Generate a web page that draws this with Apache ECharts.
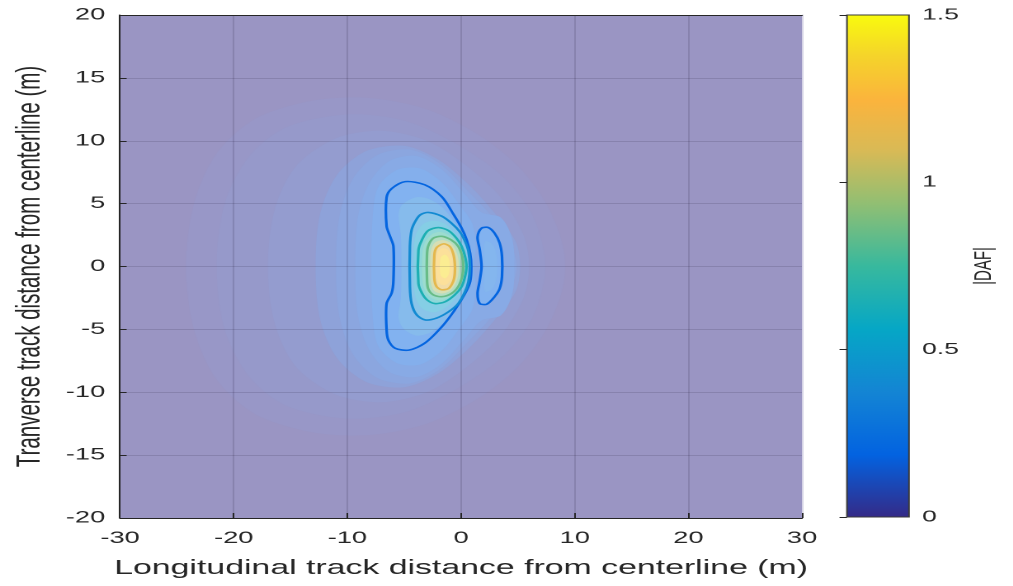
<!DOCTYPE html>
<html>
<head>
<meta charset="utf-8">
<script src="https://cdn.jsdelivr.net/npm/echarts@6/dist/echarts.min.js"></script>
<style>
  html, body { margin: 0; padding: 0; background: #fff; overflow: hidden; }
  #wrap { width: 1013px; height: 586px; overflow: hidden; }
  /* the figure is laid out narrow and stretched horizontally */
  #chart { width: 614px; height: 586px; transform: scaleX(1.65); transform-origin: 0 0; }
</style>
</head>
<body>
<div id="wrap"><div id="chart"></div></div>
<script>
// ---- axes ----
const xTicks = [-30, -20, -10, 0, 10, 20, 30];
const yTicks = [-20, -15, -10, -5, 0, 5, 10, 15, 20];
const cbTicks = [0, 0.5, 1, 1.5];
const cbMax = 1.5;

// ---- |DAF| field, outlined as nested level regions (x, y in metres) ----
const halo015 = [[-24.2,0],[-23.5,5],[-21.5,9],[-18,11.8],[-13,13.2],[-8,13.4],[-3,12.5],[1.5,10.5],[5,8],[7.5,5],[9,1.5],[9,-1.5],[7.5,-5],[5,-8],[1.5,-10.5],[-3,-12.5],[-8,-13.4],[-13,-13.2],[-18,-11.8],[-21.5,-9],[-23.5,-5]];
const halo030 = [[-21.5,0],[-20.8,5],[-18.6,8.8],[-15.3,11.1],[-10,12.1],[-5,11.6],[-0.5,9.8],[3.5,7.3],[6.1,4.4],[7.3,1.2],[7.3,-1.2],[6.1,-4.4],[3.5,-7.3],[-0.5,-9.8],[-5,-11.6],[-10,-12.1],[-15.3,-11.1],[-18.6,-8.8],[-20.8,-5]];
const halo050 = [[-17,0],[-16.4,4.5],[-14.5,8],[-11,10.2],[-7,10.8],[-3,10],[0.5,8],[3.5,5.5],[5.5,2.5],[6,0],[5.5,-2.5],[3.5,-5.5],[0.5,-8],[-3,-10],[-7,-10.8],[-11,-10.2],[-14.5,-8],[-16.4,-4.5]];
const halo090 = [[-12.8,0],[-12.4,4.2],[-10.9,7.3],[-8.3,9.2],[-5,9.6],[-2,8.5],[0.8,6.4],[3,4.2],[4.8,2],[5.2,0],[4.8,-2],[3,-4.2],[0.8,-6.4],[-2,-8.5],[-5,-9.6],[-8.3,-9.2],[-10.9,-7.3],[-12.4,-4.2]];
const halo115 = [[-11,0],[-10.7,4],[-9.5,7],[-7.3,8.9],[-4.5,9.3],[-1.9,8.2],[0.5,6.1],[2.4,4.3],[4.2,2.1],[4.9,0],[4.2,-2.1],[2.4,-4.3],[0.5,-6.1],[-1.9,-8.2],[-4.5,-9.3],[-7.3,-8.9],[-9.5,-7],[-10.7,-4]];
const halo140 = [[-9.3,0],[-9.1,3.8],[-8.1,6.6],[-6.3,8.4],[-4,8.8],[-1.8,7.8],[0.3,5.8],[1.8,4.3],[3.5,3.9],[4.5,2.2],[4.7,0],[4.5,-2.2],[3.5,-3.9],[1.8,-4.3],[0.3,-5.8],[-1.8,-7.8],[-4,-8.8],[-6.3,-8.4],[-8.1,-6.6],[-9.1,-3.8]];
const halo170 = [[-7.9,0],[-7.8,3.6],[-7.3,6.3],[-5.6,7.7],[-3.6,7.8],[-1.7,6.7],[-0.2,5.0],[1.0,3.4],[1.3,1.5],[1.1,0],[1.3,-1.5],[1.0,-3.4],[-0.2,-5.0],[-1.7,-6.7],[-3.6,-7.8],[-5.6,-7.7],[-7.3,-6.3],[-7.8,-3.6]];
const contour020 = [[-6.1,6.2],[-4.9,6.75],[-3.2,6.5],[-1.7,5.55],[-0.7,4.2],[0.05,3.05],[0.5,2.1],[0.8,1.05],[0.9,0],[0.8,-1.2],[0.35,-2.15],[-0.55,-3.45],[-1.7,-4.8],[-3.2,-6.1],[-4.6,-6.65],[-5.8,-6.5],[-6.4,-5.85],[-6.55,-5.05],[-6.55,-2.95],[-6.1,-2.1],[-5.95,-1.1],[-5.95,1.6],[-6.25,2.4],[-6.55,3.2],[-6.55,5.5]];
const island020 = [[1.8,3.05],[2.4,3.1],[2.95,2.65],[3.4,1.85],[3.6,0.8],[3.6,-0.8],[3.4,-1.75],[2.95,-2.4],[2.25,-3.0],[1.65,-2.95],[1.45,-2.15],[1.65,-1.1],[1.8,0],[1.65,1.3],[1.45,2.35]];
const island024 = [[2.1,2.0],[2.75,1.8],[3.15,0.8],[3.15,-0.8],[2.75,-1.8],[2.1,-2.0],[2.0,0]];
const fill030 = [[-5.2,4.9],[-4.0,5.5],[-2.9,5.4],[-1.7,4.75],[-0.8,3.8],[-0.05,2.9],[0.45,1.9],[0.75,1.1],[0.85,0],[0.75,-1.15],[0.4,-2.05],[-0.4,-3.2],[-1.4,-4.3],[-2.7,-5.25],[-3.9,-5.5],[-5.0,-5.0],[-5.5,-4.1],[-5.3,-2.5],[-5.25,0],[-5.3,2.5],[-5.5,4.1]];
const contour040 = [[-4.05,3.55],[-3.6,4.1],[-2.9,4.3],[-1.7,4.0],[-0.85,3.45],[-0.1,2.75],[0.35,2.0],[0.65,1.2],[0.78,0],[0.65,-1.2],[0.35,-2.0],[-0.25,-2.95],[-1.1,-3.6],[-2.15,-4.1],[-3.15,-4.25],[-3.9,-3.85],[-4.35,-2.95],[-4.5,-1.6],[-4.5,1.6],[-4.35,2.9]];
const fill050 = [[-3.3,3.4],[-2.4,3.65],[-1.4,3.4],[-0.6,2.7],[-0.05,1.9],[0.35,1.0],[0.6,0],[0.35,-1.0],[-0.05,-1.9],[-0.6,-2.65],[-1.4,-3.3],[-2.4,-3.65],[-3.4,-3.35],[-3.95,-2.6],[-4.15,-1.5],[-4.15,1.5],[-3.95,2.6]];
const contour065 = [[-2.9,2.85],[-2.0,3.1],[-1.1,2.85],[-0.4,2.25],[0.05,1.6],[0.35,0.8],[0.48,0],[0.35,-0.8],[0.05,-1.6],[-0.55,-2.25],[-1.4,-2.8],[-2.3,-2.95],[-3.0,-2.65],[-3.45,-2.1],[-3.75,-1.35],[-3.75,1.3],[-3.45,2.1]];
const fill075 = [[-2.5,2.6],[-1.8,2.75],[-1.0,2.45],[-0.35,1.9],[0.05,1.2],[0.3,0.4],[0.33,0],[0.3,-0.4],[0.05,-1.2],[-0.4,-1.9],[-1.05,-2.45],[-1.8,-2.7],[-2.6,-2.5],[-3.15,-1.95],[-3.4,-1.1],[-3.4,1.1],[-3.15,1.95]];
const contour085 = [[-2.45,2.25],[-1.7,2.4],[-0.85,2.1],[-0.25,1.6],[0.1,0.8],[0.2,0],[0.1,-0.8],[-0.25,-1.6],[-0.85,-2.15],[-1.7,-2.4],[-2.45,-2.25],[-2.9,-1.75],[-3.0,-0.8],[-3.0,0.8],[-2.9,1.6]];
const fill100 = [[-2.3,1.9],[-1.65,2.1],[-0.95,1.9],[-0.5,1.35],[-0.25,0.65],[-0.2,0],[-0.25,-0.7],[-0.5,-1.4],[-1.0,-1.95],[-1.7,-2.15],[-2.35,-1.95],[-2.65,-1.3],[-2.7,0],[-2.65,1.25]];
const contour115 = [[-2.15,1.5],[-1.55,1.8],[-1.0,1.6],[-0.7,1.05],[-0.55,0.25],[-0.55,-0.55],[-0.7,-1.2],[-1.1,-1.75],[-1.7,-1.85],[-2.15,-1.6],[-2.35,-0.95],[-2.35,0.9]];
const fill130 = [[-2.1,1.05],[-1.7,1.45],[-1.25,1.4],[-0.9,1.0],[-0.75,0.35],[-0.75,-0.45],[-0.9,-1.05],[-1.3,-1.45],[-1.75,-1.45],[-2.1,-1.05],[-2.2,0]];
const fill140 = [[-1.8,0.7],[-1.4,0.95],[-1.05,0.55],[-1.05,-0.55],[-1.4,-0.95],[-1.8,-0.7]];

// filled regions, painted from the lowest level up
const fillLevels = [0.015, 0.03, 0.05, 0.09, 0.115, 0.14, 0.17, 0.2, 0.2, 0.24, 0.3, 0.4, 0.5, 0.65, 0.75, 0.85, 1.0, 1.15, 1.3, 1.4];
const fillShapes = [halo015, halo030, halo050, halo090, halo115, halo140, halo170, contour020, island020, island024, fill030, contour040, fill050, contour065, fill075, contour085, fill100, contour115, fill130, fill140];

// contour lines
const lineLevels = [0.2, 0.2, 0.4, 0.65, 0.85, 1.15];
const lineShapes = [contour020, island020, contour040, contour065, contour085, contour115];

// ---- parula colour map ----
const parulaStops = [
  [0.000, '#352a87'], [0.125, '#0363e1'], [0.250, '#1485d4'], [0.375, '#06a7c6'],
  [0.500, '#38b99e'], [0.625, '#92bf73'], [0.730, '#d9ba56'], [0.830, '#fbb43d'],
  [0.920, '#f5d52a'], [1.000, '#f9fb0e']
];
function rgbOf(hex) {
  const n = parseInt(hex.slice(1), 16);
  return [(n >> 16) & 255, (n >> 8) & 255, n & 255];
}
function parula(t) {
  t = Math.max(0, Math.min(1, t));
  for (let i = 1; i < parulaStops.length; i++) {
    if (t <= parulaStops[i][0]) {
      const t0 = parulaStops[i - 1][0], t1 = parulaStops[i][0];
      const a = rgbOf(parulaStops[i - 1][1]), b = rgbOf(parulaStops[i][1]);
      const f = (t - t0) / (t1 - t0);
      return a.map((v, k) => Math.round(v + (b[k] - v) * f));
    }
  }
  return rgbOf(parulaStops[parulaStops.length - 1][1]);
}
// the surface is drawn half transparent over a white axes background
const surfaceAlpha = 0.5;
function surfaceColor(v) {
  const c = parula(v / cbMax);
  return 'rgb(' + c.map(x => Math.round(x * surfaceAlpha + 255 * (1 - surfaceAlpha))).join(',') + ')';
}
function lineColor(v) {
  return 'rgb(' + parula(v / cbMax).join(',') + ')';
}

const ink = '#262626';
const font = 'Liberation Sans';
const smoothing = 0.3;

const chart = echarts.init(document.getElementById('chart'), null, { renderer: 'canvas', devicePixelRatio: 2 });

chart.setOption({
  animation: false,
  backgroundColor: '#ffffff',
  grid: [
    { left: 70.9, top: 15, width: 415.2, height: 503, show: true, backgroundColor: surfaceColor(0), borderWidth: 0 },
    { left: 513.3, top: 15, width: 37.6, height: 502 }
  ],
  xAxis: [
    {
      gridIndex: 0, type: 'value', min: xTicks[0], max: xTicks[xTicks.length - 1], interval: 10,
      position: 'bottom', z: 5,
      axisLine: { show: true, onZero: false, lineStyle: { color: ink, width: 1 } },
      axisTick: { show: true, inside: true, length: 5, lineStyle: { color: ink } },
      axisLabel: { color: ink, fontFamily: font, fontSize: 16.5, margin: 12 },
      splitLine: { show: true, lineStyle: { color: 'rgba(20,15,45,0.14)', width: 1 } },
      name: 'Longitudinal track distance from centerline (m)',
      nameLocation: 'middle', nameGap: 40,
      nameTextStyle: { color: ink, fontFamily: font, fontSize: 20.5 }
    },
    {
      gridIndex: 0, type: 'value', min: xTicks[0], max: xTicks[xTicks.length - 1], position: 'top', z: 5,
      axisLine: { show: true, onZero: false, lineStyle: { color: ink, width: 1 } },
      axisTick: { show: false }, axisLabel: { show: false }, splitLine: { show: false }
    },
    { gridIndex: 1, type: 'value', min: 0, max: 1, show: false }
  ],
  yAxis: [
    {
      gridIndex: 0, type: 'value', min: yTicks[0], max: yTicks[yTicks.length - 1], interval: 5,
      position: 'left', z: 5,
      axisLine: { show: true, onZero: false, lineStyle: { color: ink, width: 1 } },
      axisTick: { show: true, inside: true, length: 4, lineStyle: { color: ink } },
      axisLabel: { color: ink, fontFamily: font, fontSize: 16.5, margin: 9 },
      splitLine: { show: true, lineStyle: { color: 'rgba(20,15,45,0.14)', width: 1 } },
      name: 'Tranverse track distance from centerline (m)',
      nameLocation: 'middle', nameGap: 40, nameRotate: 90,
      nameTextStyle: { color: ink, fontFamily: font, fontSize: 20.5 }
    },
    {
      gridIndex: 0, type: 'value', min: yTicks[0], max: yTicks[yTicks.length - 1], position: 'right', z: 5,
      axisLine: { show: true, onZero: false, lineStyle: { color: '#d6d4e6', width: 1 } },
      axisTick: { show: false }, axisLabel: { show: false }, splitLine: { show: false }
    },
    {
      gridIndex: 1, type: 'value', min: cbTicks[0], max: cbMax, interval: 0.5,
      position: 'right', z: 5,
      axisLine: { show: false },
      axisTick: { show: true, inside: true, length: 4.5, lineStyle: { color: ink } },
      axisLabel: { color: ink, fontFamily: font, fontSize: 16, margin: 8 },
      splitLine: { show: false },
      name: '|DAF|', nameLocation: 'middle', nameGap: 38, nameRotate: 90,
      nameTextStyle: { color: ink, fontFamily: font, fontSize: 15 }
    }
  ],
  series: [
    {
      // filled level regions of the surface
      type: 'custom', xAxisIndex: 0, yAxisIndex: 0, z: 2, silent: true, clip: true,
      data: fillShapes.map(s => s[0]),
      renderItem: function (params, api) {
        const pts = fillShapes[params.dataIndex].map(p => api.coord(p));
        return {
          type: 'polygon',
          shape: { points: pts, smooth: smoothing },
          style: { fill: surfaceColor(fillLevels[params.dataIndex]), stroke: null }
        };
      }
    },
    {
      // contour lines
      type: 'custom', xAxisIndex: 0, yAxisIndex: 0, z: 6, silent: true, clip: true,
      data: lineShapes.map(s => s[0]),
      renderItem: function (params, api) {
        const pts = lineShapes[params.dataIndex].map(p => api.coord(p));
        return {
          type: 'polygon',
          shape: { points: pts, smooth: smoothing },
          style: { fill: null, stroke: lineColor(lineLevels[params.dataIndex]), lineWidth: 1.6 }
        };
      }
    },
    {
      // colour bar
      type: 'custom', xAxisIndex: 2, yAxisIndex: 2, z: 2, silent: true,
      data: [[0, 0]],
      renderItem: function (params, api) {
        const p0 = api.coord([0, 0]);
        const p1 = api.coord([1, cbMax]);
        return {
          type: 'rect',
          shape: { x: p0[0], y: p1[1], width: p1[0] - p0[0], height: p0[1] - p1[1] },
          style: {
            fill: new echarts.graphic.LinearGradient(0, 1, 0, 0,
              parulaStops.map(s => ({ offset: s[0], color: s[1] }))),
            stroke: '#3a3a3a', lineWidth: 1
          }
        };
      }
    }
  ]
});
</script>
</body>
</html>
